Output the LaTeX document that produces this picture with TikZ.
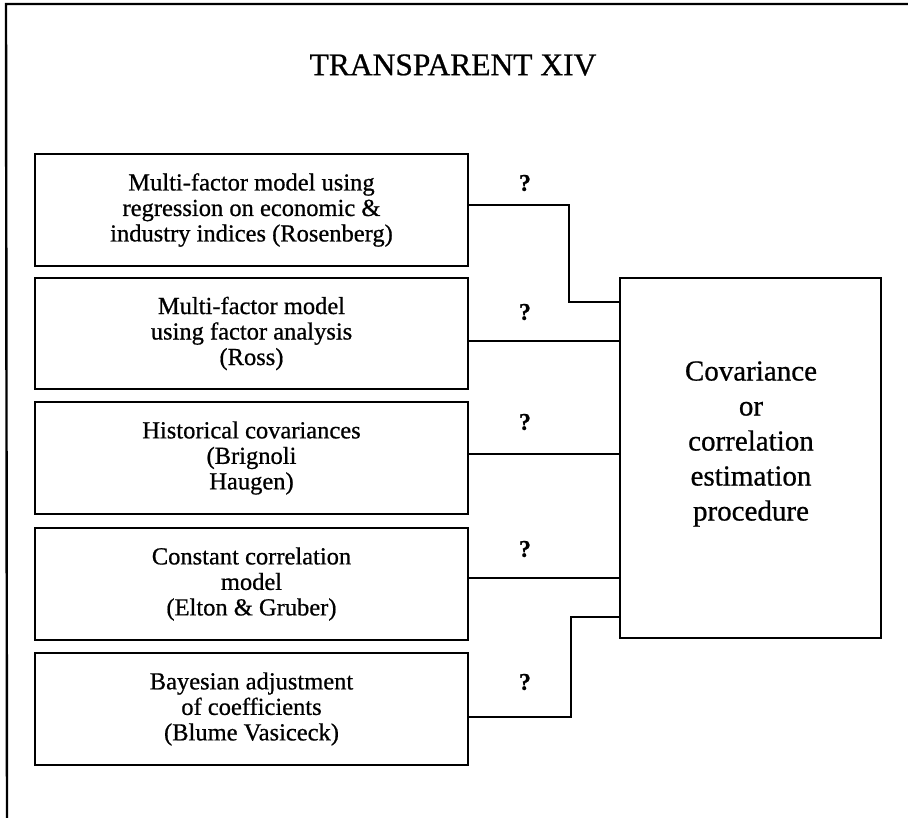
\documentclass[tikz,border=0pt]{standalone}
\usepackage{fontspec}
\setmainfont[FakeBold=0.7]{Liberation Serif}
\begin{document}
\begin{tikzpicture}[x=1pt,y=-1pt,
  ln/.style={line width=2.4pt, line cap=rect},
  srcbox/.style={draw, line width=2.4pt, minimum width=433pt, minimum height=112pt, inner sep=0pt, align=center,
    font=\fontsize{24.5pt}{25.5pt}\selectfont},
  bigbox/.style={draw, line width=2.4pt, minimum width=261pt, minimum height=360pt, inner sep=0pt},
  qmark/.style={font=\fontsize{24pt}{26pt}\selectfont\bfseries, inner sep=0pt}]
\useasboundingbox (0,0) rectangle (908,817);
% frame
\coordinate (ftl) at (6,4);
\coordinate (ftr) at (908,4);
\coordinate (fbl) at (7,817);
\draw[ln] (ftr) -- (ftl) -- (fbl);
% title
\node[font=\fontsize{31.5pt}{33pt}\selectfont] (title) at (453,65) {TRANSPARENT XIV};
% source boxes
\node[srcbox] (b1) at (251.5,210) {Multi-factor model using\\regression on economic \&\\industry indices (Rosenberg)};
\node[srcbox, minimum height=111pt] (b2) at (251.5,333.5) {Multi-factor model\\using factor analysis\\(Ross)};
\node[srcbox] (b3) at (251.5,458) {Historical covariances\\(Brignoli\\Haugen)};
\node[srcbox] (b4) at (251.5,584) {Constant correlation\\model\\(Elton \& Gruber)};
\node[srcbox] (b5) at (251.5,709) {Bayesian adjustment\\of coefficients\\(Blume Vasiceck)};
% target box
\node[bigbox] (big) at (750.5,458) {};
\node[align=center, font=\fontsize{29pt}{35pt}\selectfont] (bigtext) at (751,444) {Covariance\\or\\correlation\\estimation\\procedure};
% connectors
\coordinate (k1) at (569,302);
\coordinate (k5) at (571,617);
\draw[ln] ([yshift=5pt]b1.east) -| (k1) -- (k1 -| big.west);
\draw[ln] ([yshift=-7.5pt]b2.east) -- ([yshift=-7.5pt]b2.east -| big.west);
\draw[ln] ([yshift=4pt]b3.east) -- ([yshift=4pt]b3.east -| big.west);
\draw[ln] ([yshift=6pt]b4.east) -- ([yshift=6pt]b4.east -| big.west);
\draw[ln] ([yshift=-8pt]b5.east) -| (k5) -- (k5 -| big.west);
% question marks
\node[qmark] (q1) at (525,183) {?};
\node[qmark] (q2) at (525,312) {?};
\node[qmark] (q3) at (525,422) {?};
\node[qmark] (q4) at (525,549) {?};
\node[qmark] (q5) at (525,682) {?};
\end{tikzpicture}
\end{document}
